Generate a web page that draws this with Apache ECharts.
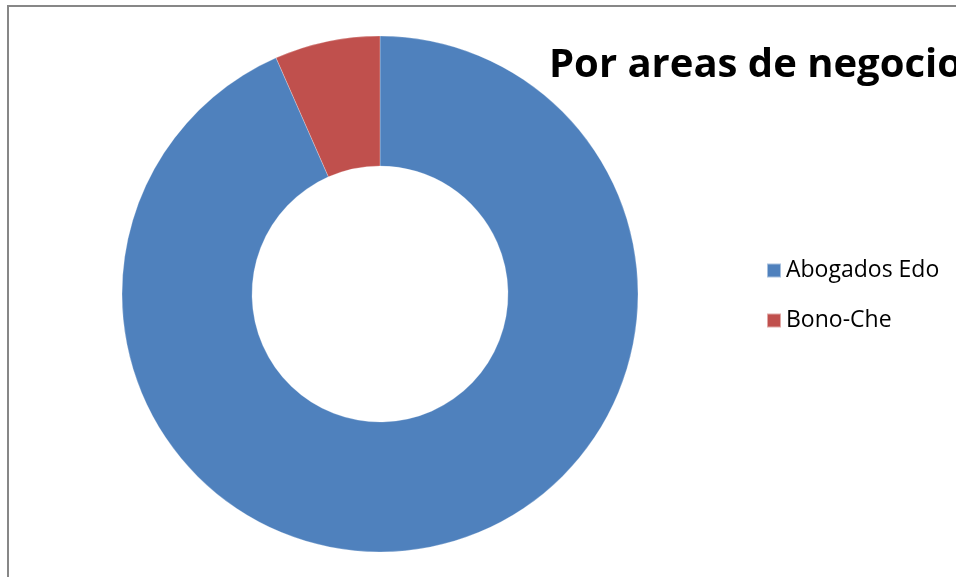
<!DOCTYPE html>
<html>
<head>
<meta charset="utf-8">
<script src="https://cdn.jsdelivr.net/npm/echarts@6/dist/echarts.min.js"></script>
<style>
html,body{margin:0;padding:0;background:#fff;}
#main{width:956px;height:577px;}
</style>
</head>
<body>
<div id="main"></div>
<script>
const titleText = 'Por areas de negocio';
const categories = ['Abogados Edo', 'Bono-Che'];
const values = [93.4, 6.6];
const colors = ['#4F81BD', '#C0504D'];

const chart = echarts.init(document.getElementById('main'), null, {renderer: 'canvas'});
chart.setOption({
  animation: false,
  backgroundColor: '#ffffff',
  graphic: [{
    type: 'rect',
    shape: {x: 8, y: 6, width: 1000, height: 700},
    style: {fill: 'none', stroke: '#878787', lineWidth: 2},
    silent: true,
    z: -1
  }],
  title: {
    text: titleText,
    left: 544,
    top: 41,
    textStyle: {fontFamily: 'Open Sans', fontWeight: 'bold', fontSize: 40, color: '#000'}
  },
  legend: {
    orient: 'vertical',
    left: 761,
    top: 254,
    icon: 'rect',
    itemWidth: 14,
    itemHeight: 14,
    itemGap: 27,
    textStyle: {fontFamily: 'Open Sans', fontSize: 23, color: '#000'},
    data: categories
  },
  series: [{
    type: 'pie',
    center: [380, 294],
    radius: [128, 258],
    startAngle: 90,
    clockwise: true,
    label: {show: false},
    labelLine: {show: false},
    emphasis: {disabled: true},
    itemStyle: {borderColor: 'rgba(255,255,255,0.5)', borderWidth: 0.5},
    data: categories.map((c, i) => ({name: c, value: values[i], itemStyle: {color: colors[i]}}))
  }]
});
</script>
</body>
</html>
